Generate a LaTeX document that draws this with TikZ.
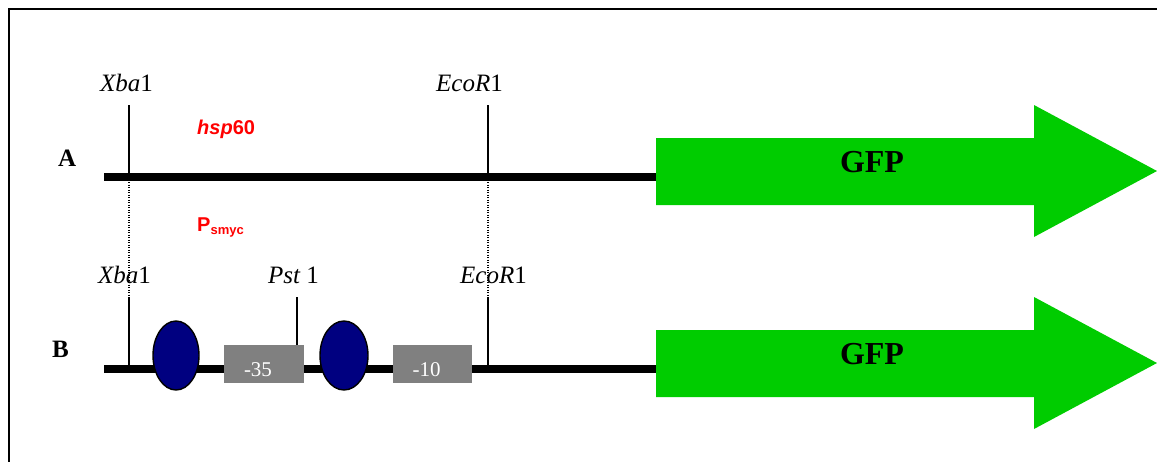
\documentclass[tikz,border=0pt]{standalone}
\usepackage{fontspec}
\setmainfont{Liberation Serif}
\setsansfont{Liberation Sans}
\usetikzlibrary{shapes.geometric}
\definecolor{gfpgreen}{HTML}{00CC00}
\definecolor{bindnavy}{HTML}{000080}
\definecolor{boxgray}{HTML}{808080}
\tikzset{
  lbl/.style={anchor=base west, inner sep=0pt, font=\fontsize{25}{30}\selectfont},
  redlbl/.style={anchor=base west, inner sep=0pt, text=red, font=\sffamily\bfseries\fontsize{20}{24}\selectfont},
  dna/.style={line width=7.5pt},
  site/.style={line width=1.5pt},
  siteguide/.style={line width=1.2pt, dash pattern=on 1.2pt off 1.3pt},
  gfparrow/.style={fill=gfpgreen, draw=none},
  gfptext/.style={inner sep=0pt, anchor=base, font=\bfseries\fontsize{32}{38}\selectfont},
  binding/.style={ellipse, draw=black, line width=1.4pt, fill=bindnavy, inner sep=0pt, minimum height=69pt},
  motif/.style={rectangle, fill=boxgray, inner sep=0pt, minimum width=80pt, text height=31pt, text depth=7pt, text=white, font=\fontsize{21}{25}\selectfont}
}
\begin{document}
\begin{tikzpicture}[x=1pt,y=-1pt]
\useasboundingbox (0,0) rectangle (1157,461);
% frame
\draw[line width=2pt] (9,462) -- (9,9) -- (1158,9);

% ---------- Row A ----------
\node[lbl] (labA) at (58,166) {\bfseries A};
\coordinate (a0) at (104,177);
\coordinate (a1) at (656,177);
\draw[dna] (a0) -- (a1);
\coordinate (xa) at (129,177);
\coordinate (xaTop) at (129,105);
\coordinate (ea) at (488,177);
\coordinate (eaTop) at (488,105);
\draw[site] (xaTop) -- (xa);
\draw[site] (eaTop) -- (ea);
\node[lbl] (xbaA) at (100,91) {\itshape Xba\upshape 1};
\node[lbl] (ecoA) at (436,91) {\itshape EcoR\upshape 1};
\node[redlbl] (hsp) at (197,134) {\itshape hsp\upshape 60};
\node[redlbl] (psmyc) at (197,231) {P\raisebox{-3pt}{\fontsize{13}{15}\selectfont smyc}};
\fill[gfparrow] (656,138) -- (1034,138) -- (1034,105) -- (1157,171) -- (1034,237) -- (1034,205) -- (656,205) -- cycle;
\node[gfptext] (gfpA) at (872,172) {GFP};

% ---------- Row B ----------
\node[lbl] (labB) at (52,357) {\bfseries B};
\coordinate (b0) at (104,369);
\coordinate (b1) at (656,369);
\draw[dna] (b0) -- (b1);
\coordinate (xb) at (129,369);
\coordinate (xbTop) at (129,297);
\coordinate (eb) at (488,369);
\coordinate (ebTop) at (488,297);
\coordinate (pbTop) at (297,297);
\draw[site] (xbTop) -- (xb);
\draw[site] (ebTop) -- (eb);
\draw[siteguide] (xa) -- (xbTop);
\draw[siteguide] (ea) -- (ebTop);
\node[lbl] (xbaB) at (98,283) {\itshape Xba\upshape 1};
\node[lbl] (pstB) at (268,283) {\itshape Pst\upshape{} 1};
\node[lbl] (ecoB) at (460,283) {\itshape EcoR\upshape 1};

\node[binding, minimum width=46pt] (ell1) at (176,355.5) {};
\node[binding, minimum width=48pt] (ell2) at (344,355.5) {};
\node[motif] (m35) at (264,364) {\hspace*{-12pt}-35};
\node[motif, minimum width=79pt] (m10) at (432.5,364) {\hspace*{-12pt}-10};
\draw[site] (pbTop) -- (pbTop |- m35.north);

\fill[gfparrow] (656,330) -- (1034,330) -- (1034,297) -- (1157,363) -- (1034,429) -- (1034,397) -- (656,397) -- cycle;
\node[gfptext] (gfpB) at (872,364) {GFP};
\end{tikzpicture}
\end{document}
